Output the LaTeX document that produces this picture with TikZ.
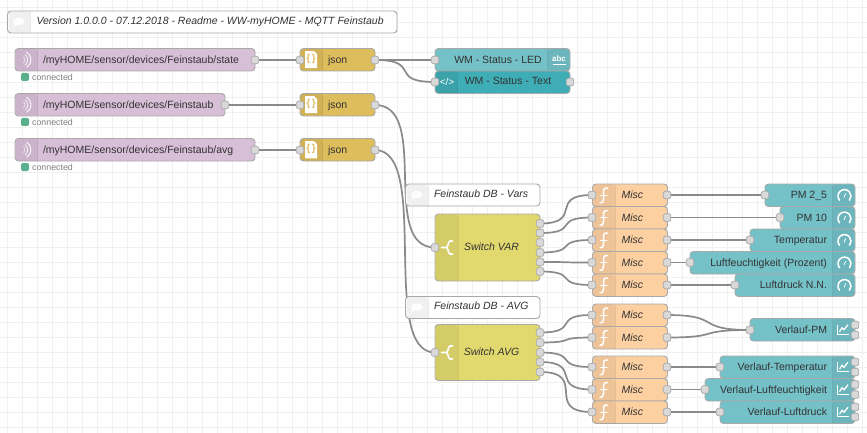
\documentclass[tikz,border=0pt]{standalone}
\usepackage{fontspec}
\setmainfont{Liberation Sans}
\usetikzlibrary{calc}
\definecolor{cmqtt}{HTML}{D8BFD8}
\definecolor{cjson}{HTML}{DEBD5C}
\definecolor{cdash}{HTML}{74C1C8}
\definecolor{ctpl}{HTML}{3FADB5}
\definecolor{cswitch}{HTML}{E2D96E}
\definecolor{cfunc}{HTML}{FDD0A2}
\definecolor{cwire}{HTML}{8A8A8A}
\definecolor{cborder}{HTML}{A8A8A8}
\definecolor{ctext}{HTML}{333333}
\definecolor{cstatus}{HTML}{5AB08C}
\definecolor{cport}{HTML}{D9D9D9}
\tikzset{
  x=1pt,y=-1pt,
  nodebox/.style={draw=cborder,line width=0.9pt,rounded corners=3.5pt,anchor=north west,inner sep=0pt,outer sep=0pt},
  portbox/.style={draw=cborder,fill=cport,line width=0.7pt,rounded corners=1.6pt,minimum size=7.6pt,inner sep=0pt,outer sep=0pt},
  wire/.style={draw=cwire,line width=1.7pt},
  lab/.style={text=ctext,font=\fontsize{10.5}{12}\selectfont,inner sep=0pt,outer sep=0pt,anchor=base,yshift=-3.5pt},
  labl/.style={lab,anchor=base west},
  labr/.style={lab,anchor=base east},
  labi/.style={lab,anchor=base west,font=\fontsize{10.5}{12}\selectfont\itshape},
  iconline/.style={draw=white,line width=1pt,line cap=round,fill=none},
}
\newcommand\shadeL[4]{% x0 y0 x1 y1
  \fill[black,opacity=.06,rounded corners=3pt] (#1+1,#2+.5) -- (#3,#2+.5) [sharp corners] -- (#3,#4-.5) [rounded corners=3pt] -- (#1+1,#4-.5) -- cycle;
  \draw[black,opacity=.08,line width=.6pt] (#3,#2+.5) -- (#3,#4-.5);
}
\newcommand\shadeR[4]{% x0 y0 x1 y1
  \fill[black,opacity=.06,rounded corners=3pt] (#3-1,#2+.5) -- (#1,#2+.5) [sharp corners] -- (#1,#4-.5) [rounded corners=3pt] -- (#3-1,#4-.5) -- cycle;
  \draw[black,opacity=.08,line width=.6pt] (#1,#2+.5) -- (#1,#4-.5);
}
\newcommand\wirec[2]{%
  \draw[wire] let \p1=(#1),\p2=(#2),\n1={0.75*min(75pt,veclen(\x2-\x1,\y2-\y1))} in
    (#1) .. controls +(\n1,0) and +(-\n1,0) .. (#2);
}
% icons
\newcommand\icomment[2]{\fill[white,opacity=.9] (#1,#2) ellipse (6pt and 3.6pt); \fill[white,opacity=.9] (#1-4,#2+1) -- (#1-6,#2+5) -- (#1-1,#2+3) -- cycle;}
\newcommand\iwaves[2]{%
  \draw[white,line width=.9pt,opacity=.95] (#1+.5,#2-7.6) arc[start angle=60,end angle=-60,radius=8.8pt];
  \draw[white,line width=.9pt,opacity=.8] (#1-1,#2-5.2) arc[start angle=55,end angle=-55,radius=6.4pt];
  \draw[white,line width=.9pt,opacity=.6] (#1-2.5,#2-3) arc[start angle=50,end angle=-50,radius=3.9pt];
}
\newcommand\ijson[3]{%
  \fill[white] (#1-6,#2-8.5) -- (#1+3,#2-8.5) -- (#1+6,#2-5.5) -- (#1+6,#2+8.5) -- (#1-6,#2+8.5) -- cycle;
  \node[inner sep=0pt,text=cjson,font=\fontsize{10}{10}\selectfont\bfseries] (#3) at (#1,#2-.5) {\{\,\}};
}
\newcommand\ifunc[2]{%
  \draw[iconline,line width=1.5pt] (#1+4,#2-7) .. controls (#1+1,#2-8) and (#1,#2-6) .. (#1,#2-3) -- (#1,#2+4) .. controls (#1,#2+7) and (#1-1.5,#2+8) .. (#1-3.5,#2+7.5);
  \draw[iconline,line width=1.2pt] (#1-2.8,#2) -- (#1+3.6,#2);
}
\newcommand\iswitch[2]{%
  \draw[iconline,line width=1.6pt] (#1-5.5,#2) -- (#1-1,#2) (#1+5.5,#2-6.5) -- (#1+3,#2-6.5) .. controls (#1+1,#2-6.5) and (#1+1.5,#2) .. (#1-1,#2) .. controls (#1+1.5,#2) and (#1+1,#2+6.5) .. (#1+3,#2+6.5) -- (#1+5.5,#2+6.5);
}
\newcommand\igauge[2]{\draw[iconline,line width=1.5pt] (#1-4,#2+5) arc[start angle=220,end angle=-40,radius=6.5pt] ; \draw[iconline,line width=.8pt] (#1+.7,#2+2) -- (#1+2,#2-1.5);}
\newcommand\ichart[2]{%
  \draw[white,line width=.8pt] (#1-5.5,#2-5) -- (#1-5.5,#2+4.5) -- (#1+5.5,#2+4.5);
  \draw[white,line width=1.2pt] (#1-3.5,#2+2) -- (#1-1,#2-2) -- (#1+1,#2) -- (#1+5,#2-5);
}
\begin{document}
\begin{tikzpicture}
\useasboundingbox (0,0) rectangle (867,433);
\fill[white] (0,0) rectangle (867,433);
\foreach \gx in {7,22,...,862} \draw[black!6,line width=.7pt] (\gx.5,0) -- (\gx.5,433);
\foreach \gy in {7,22,...,427} \draw[black!6,line width=.7pt] (0,\gy.5) -- (867,\gy.5);

% --- port positions
\foreach \n/\x/\y in {
 pm1o/255/60,pm2o/225/105,pm3o/255/150,
 j1i/300/60,j1o/375/60,j2i/300/105,j2o/375/105,j3i/300/150,j3o/375/150,
 ledi/435/60,txti/435/82,txto/570/82,
 sw1i/435/247.5,sw1a/540/223.5,sw1b/540/233,sw1c/540/242.5,sw1d/540/252.5,sw1e/540/262,sw1f/540/271.5,
 sw2i/435/352.5,sw2a/540/332.5,sw2b/540/342.5,sw2c/540/352.5,sw2d/540/362,sw2e/540/372,
 f1i/592/195,f1o/667/195,f2i/592/217.5,f2o/667/217.5,f3i/592/240,f3o/667/240,f4i/592/262.5,f4o/667/262.5,f5i/592/285,f5o/667/285,
 g1i/765/195,g2i/780/217.5,g3i/750/240,g4i/690/262.5,g5i/735/285,
 h1i/592/315,h1o/667/315,h2i/592/337.5,h2o/667/337.5,h3i/592/367,h3o/667/367,h4i/592/389.5,h4o/667/389.5,h5i/592/412,h5o/667/412,
 c1i/750/330,c2i/720/367,c3i/705/389.5,c4i/720/412,
 c1a/855/325,c1b/855/335,c2a/855/362,c2b/855/372,c3a/855/384.5,c3b/855/394.5,c4a/855/407,c4b/855/417}
 {\coordinate (\n) at (\x,\y);}

% --- wires
\wirec{pm1o}{j1i}\wirec{pm2o}{j2i}\wirec{pm3o}{j3i}
\wirec{j1o}{ledi}\wirec{j1o}{txti}
\wirec{j2o}{sw1i}\wirec{j3o}{sw2i}
\wirec{sw1a}{f1i}\wirec{sw1b}{f2i}\wirec{sw1d}{f3i}\wirec{sw1e}{f4i}\wirec{sw1f}{f5i}
\wirec{sw2a}{h1i}\wirec{sw2b}{h2i}\wirec{sw2c}{h3i}\wirec{sw2d}{h4i}\wirec{sw2e}{h5i}
\wirec{f1o}{g1i}\wirec{f2o}{g2i}\wirec{f3o}{g3i}\wirec{f4o}{g4i}\wirec{f5o}{g5i}
\wirec{h1o}{c1i}\wirec{h2o}{c1i}\wirec{h3o}{c2i}\wirec{h4o}{c3i}\wirec{h5o}{c4i}

% --- comment nodes
\node[nodebox,fill=white,minimum width=389.5pt,minimum height=22pt] (cm0) at (7.5,11) {};
\shadeL{7.5}{11}{30}{33}\icomment{19}{21.5}
\node[labi] (cm0t) at (36.5,21) {Version 1.0.0.0 - 07.12.2018 - Readme - WW-myHOME - MQTT Feinstaub};
\node[nodebox,fill=white,minimum width=134.5pt,minimum height=22pt] (cm1) at (405.5,184) {};
\shadeL{405.5}{184}{428}{206}\icomment{417}{194.5}
\node[labi] (cm1t) at (434,194) {Feinstaub DB - Vars};
\node[nodebox,fill=white,minimum width=134.5pt,minimum height=22pt] (cm2) at (405.5,296.5) {};
\shadeL{405.5}{296.5}{428}{318.5}\icomment{417}{307}
\node[labi] (cm2t) at (434,306.3) {Feinstaub DB - AVG};

% --- mqtt
\foreach \nm/\yy/\xe/\tx in {m1/48.5/255/{/myHOME/sensor/devices/Feinstaub/state},m2/93.5/225/{/myHOME/sensor/devices/Feinstaub},m3/138.5/255/{/myHOME/sensor/devices/Feinstaub/avg}}{
  \pgfmathsetmacro\bw{\xe-15}
  \pgfmathsetmacro\yb{\yy+22.5}
  \pgfmathsetmacro\yc{\yy+11.25}
  \pgfmathsetmacro\yd{\yy+28.5}
  \node[nodebox,fill=cmqtt,minimum width=\bw pt,minimum height=22.5pt] (\nm) at (15,\yy) {};
  \shadeL{15}{\yy}{37.5}{\yb}
  \iwaves{26}{\yc}
  \node[labl] (\nm t) at (43,\yc) {\tx};
  \node[fill=cstatus,rounded corners=2pt,minimum size=8pt,inner sep=0pt] (\nm s) at (25,\yd) {};
  \node[anchor=west,inner sep=0pt,text=black!50,font=\fontsize{8.8}{9}\selectfont] (\nm c) at (32,\yd) {connected};
}

% --- json
\foreach \nm/\yy in {j1/48.5,j2/93.5,j3/138.5}{
  \pgfmathsetmacro\yb{\yy+22.5}
  \pgfmathsetmacro\yc{\yy+11.25}
  \node[nodebox,fill=cjson,minimum width=75pt,minimum height=22.5pt] (\nm) at (300,\yy) {};
  \shadeL{300}{\yy}{322.5}{\yb}
  \ijson{311}{\yc}{\nm g}
  \node[labl] (\nm t) at (328,\yc) {json};
}

% --- status
\node[nodebox,fill=cdash,minimum width=135pt,minimum height=22.5pt] (led) at (435,48.5) {};
\shadeR{547.5}{48.5}{570}{71}
\node[lab] (ledt) at (498,60) {WM - Status - LED};
\node[inner sep=0pt,text=white,font=\fontsize{8}{8}\selectfont\bfseries] (ledg) at (559,59) {abc};
\draw[white,line width=.9pt] (552.5,64.5) -- (566,64.5);
\node[nodebox,fill=ctpl,minimum width=135pt,minimum height=22.5pt] (txt) at (435,71) {};
\shadeL{435}{71}{457.5}{93.5}
\node[inner sep=0pt,text=white,font=\fontsize{10}{10}\selectfont] (txtg) at (447,82) {</>};
\node[lab] (txtt) at (508,81.5) {WM - Status - Text};

% --- switches
\node[nodebox,fill=cswitch,minimum width=105pt,minimum height=67pt] (sw1) at (435,214) {};
\shadeL{435}{214}{458}{281}\iswitch{447}{247.5}
\node[lab,font=\fontsize{10.5}{12}\selectfont\itshape] (sw1t) at (491.5,246.5) {Switch VAR};
\node[nodebox,fill=cswitch,minimum width=105pt,minimum height=56pt] (sw2) at (435,324.5) {};
\shadeL{435}{324.5}{458}{380.5}\iswitch{447}{352.5}
\node[lab,font=\fontsize{10.5}{12}\selectfont\itshape] (sw2t) at (491.5,351.5) {Switch AVG};

% --- functions
\foreach \nm/\yy in {f1/184,f2/206.5,f3/229,f4/251.5,f5/274,h1/304,h2/326.5,h3/356,h4/378.5,h5/401}{
  \pgfmathsetmacro\yb{\yy+22.5}
  \pgfmathsetmacro\yc{\yy+11.25}
  \node[nodebox,fill=cfunc,minimum width=75pt,minimum height=22.5pt] (\nm) at (592.5,\yy) {};
  \shadeL{592.5}{\yy}{615}{\yb}
  \ifunc{603.5}{\yc}
  \node[labi] (\nm t) at (621.5,\yc) {Misc};
}

% --- gauges
\foreach \nm/\xs/\yy/\tx in {g1/765/184/{PM 2\_5},g2/780/206.5/{PM 10},g3/750/229/{Temperatur},g4/690/251.5/{Luftfeuchtigkeit (Prozent)},g5/735/274/{Luftdruck N.N.}}{
  \pgfmathsetmacro\bw{855-\xs}
  \pgfmathsetmacro\yb{\yy+22.5}
  \pgfmathsetmacro\yc{\yy+11.25}
  \node[nodebox,fill=cdash,minimum width=\bw pt,minimum height=22.5pt] (\nm) at (\xs,\yy) {};
  \shadeR{832.5}{\yy}{855}{\yb}
  \igauge{843.5}{\yc}
  \node[labr] (\nm t) at (827,\yc) {\tx};
}

% --- charts
\foreach \nm/\xs/\yy/\tx in {c1/750/318.5/{Verlauf-PM},c2/720/356/{Verlauf-Temperatur},c3/705/378.5/{Verlauf-Luftfeuchtigkeit},c4/720/401/{Verlauf-Luftdruck}}{
  \pgfmathsetmacro\bw{855-\xs}
  \pgfmathsetmacro\yb{\yy+22.5}
  \pgfmathsetmacro\yc{\yy+11.25}
  \node[nodebox,fill=cdash,minimum width=\bw pt,minimum height=22.5pt] (\nm) at (\xs,\yy) {};
  \shadeR{832.5}{\yy}{855}{\yb}
  \ichart{843}{\yc}
  \node[labr] (\nm t) at (827,\yc) {\tx};
}

% --- ports
\foreach \n/\x/\y in {
 pm1o/255/60,pm2o/225/105,pm3o/255/150,
 j1i/300/60,j1o/375/60,j2i/300/105,j2o/375/105,j3i/300/150,j3o/375/150,
 ledi/435/60,txti/435/82,txto/570/82,
 sw1i/435/247.5,sw1a/540/223.5,sw1b/540/233,sw1c/540/242.5,sw1d/540/252.5,sw1e/540/262,sw1f/540/271.5,
 sw2i/435/352.5,sw2a/540/332.5,sw2b/540/342.5,sw2c/540/352.5,sw2d/540/362,sw2e/540/372,
 f1i/592/195,f1o/667/195,f2i/592/217.5,f2o/667/217.5,f3i/592/240,f3o/667/240,f4i/592/262.5,f4o/667/262.5,f5i/592/285,f5o/667/285,
 g1i/765/195,g2i/780/217.5,g3i/750/240,g4i/690/262.5,g5i/735/285,
 h1i/592/315,h1o/667/315,h2i/592/337.5,h2o/667/337.5,h3i/592/367,h3o/667/367,h4i/592/389.5,h4o/667/389.5,h5i/592/412,h5o/667/412,
 c1i/750/330,c2i/720/367,c3i/705/389.5,c4i/720/412,
 c1a/855/325,c1b/855/335,c2a/855/362,c2b/855/372,c3a/855/384.5,c3b/855/394.5,c4a/855/407,c4b/855/417}
 {\node[portbox] (\n p) at (\x,\y) {};}
\end{tikzpicture}
\end{document}
